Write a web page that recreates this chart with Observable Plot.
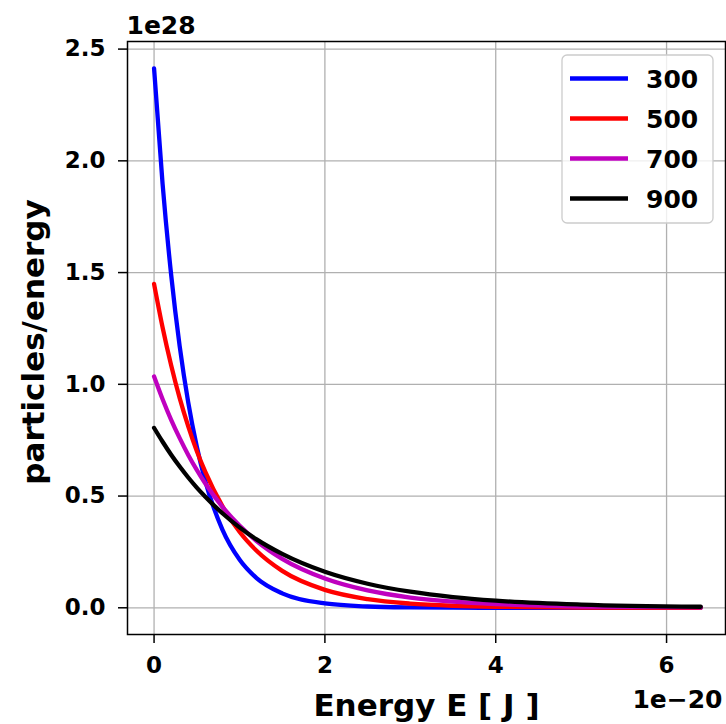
<!DOCTYPE html>
<html><head><meta charset="utf-8">
<script src="https://cdn.jsdelivr.net/npm/d3@7"></script>
<script src="https://cdn.jsdelivr.net/npm/@observablehq/plot@0.6"></script>
<style>body{margin:0;background:#fff}#chart{position:relative;width:726px;height:724px}</style>
</head><body><div id="chart"></div>
<script>
// Energy in units of 1e-20 J, densities in units of 1e28
const energy = [0, 0.1, 0.2, 0.3, 0.4, 0.5, 0.6, 0.8, 1.0, 1.2, 1.5, 2.0, 2.5, 3.0, 3.5, 4.0, 5.0, 6.4];
const temperatures = ["300", "500", "700", "900"];
const n300 = [2.414, 1.896, 1.490, 1.170, 0.919, 0.722, 0.567, 0.350, 0.216, 0.133, 0.0646, 0.0193, 0.0058, 0.0017, 0.0005, 0.00015, 0.00001, 0.0];
const n500 = [1.449, 1.254, 1.085, 0.938, 0.812, 0.702, 0.608, 0.455, 0.340, 0.255, 0.165, 0.080, 0.0387, 0.0188, 0.0091, 0.0044, 0.0010, 0.00014];
const n700 = [1.035, 0.933, 0.841, 0.759, 0.684, 0.617, 0.556, 0.452, 0.368, 0.299, 0.219, 0.131, 0.0778, 0.046, 0.0276, 0.0165, 0.0058, 0.0014];
const n900 = [0.805, 0.743, 0.685, 0.632, 0.583, 0.538, 0.497, 0.423, 0.360, 0.306, 0.241, 0.161, 0.1076, 0.072, 0.048, 0.032, 0.0144, 0.0047];
const colors = ["#0000ff", "#ff0000", "#bf00bf", "#000000"];
const xTicks = [0, 2, 4, 6];
const yTicks = [0, 0.5, 1.0, 1.5, 2.0, 2.5];
const xLabel = "Energy E [ J ]";
const yLabel = "particles/energy";
const xOffsetLabel = "1e\u221220";
const yOffsetLabel = "1e28";

const series = [n300, n500, n700, n900];
const rows = [];
series.forEach((s, i) => s.forEach((v, j) => rows.push({E: energy[j], n: v, T: temperatures[i]})));

const FONT = "'DejaVu Sans', sans-serif";
const plot = Plot.plot({
  width: 726, height: 724,
  marginLeft: 127, marginRight: 1, marginTop: 41, marginBottom: 90,
  style: {fontFamily: FONT, fontWeight: "bold", background: "white", color: "black", overflow: "visible"},
  x: {domain: [-0.311, 6.69]},
  y: {domain: [-0.1195, 2.534]},
  color: {domain: temperatures, range: colors},
  marks: [
    Plot.gridX(xTicks, {stroke: "#b0b0b0", strokeOpacity: 1, strokeWidth: 1.3}),
    Plot.gridY(yTicks, {stroke: "#b0b0b0", strokeOpacity: 1, strokeWidth: 1.3}),
    Plot.line(rows, {x: "E", y: "n", z: "T", stroke: "T", strokeWidth: 4.3, curve: "monotone-x"}),
    Plot.frame({stroke: "black", strokeWidth: 1.5}),
    Plot.axisX(xTicks, {tickSize: 9, tickPadding: 13, fontSize: 23, label: null, tickFormat: d => String(d), strokeWidth: 1.5}),
    Plot.axisY(yTicks, {tickSize: 9, tickPadding: 13, fontSize: 23, label: null, tickFormat: d => d.toFixed(1), strokeWidth: 1.5}),
    Plot.text([xLabel], {text: d => d, frameAnchor: "bottom", textAnchor: "middle", lineAnchor: "middle", dy: 71.4, fontSize: 31, fontWeight: "bold"}),
    Plot.text([yLabel], {text: d => d, frameAnchor: "left", textAnchor: "middle", rotate: -90, lineAnchor: "middle", dx: -93, dy: 4, fontSize: 31, fontWeight: "bold"}),
    Plot.text([yOffsetLabel], {text: d => d, frameAnchor: "top-left", textAnchor: "start", lineAnchor: "middle", dx: -1, dy: -15.7, fontSize: 25, fontWeight: "bold"}),
    Plot.text([xOffsetLabel], {text: d => d, frameAnchor: "bottom-right", textAnchor: "end", lineAnchor: "middle", dx: -3, dy: 65.7, fontSize: 25, fontWeight: "bold"})
  ]
});
document.getElementById("chart").append(plot);

// Legend (matplotlib style, upper right)
const svg = d3.select(plot);
const lg = svg.append("g").attr("text-anchor", "start");
lg.append("rect").attr("x", 562).attr("y", 55).attr("width", 151).attr("height", 168)
  .attr("rx", 5).attr("fill", "white").attr("fill-opacity", 0.8)
  .attr("stroke", "#cccccc").attr("stroke-width", 1.3);
temperatures.forEach((t, i) => {
  const y = 78.5 + i * 40;
  lg.append("line").attr("x1", 570).attr("x2", 628).attr("y1", y).attr("y2", y)
    .attr("stroke", colors[i]).attr("stroke-width", 4.3);
  lg.append("text").attr("x", 646).attr("y", y).attr("dy", "0.36em")
    .attr("text-anchor", "start")
    .attr("font-family", FONT).attr("font-weight", "bold").attr("font-size", 25)
    .attr("fill", "black").text(t);
});
</script></body></html>
